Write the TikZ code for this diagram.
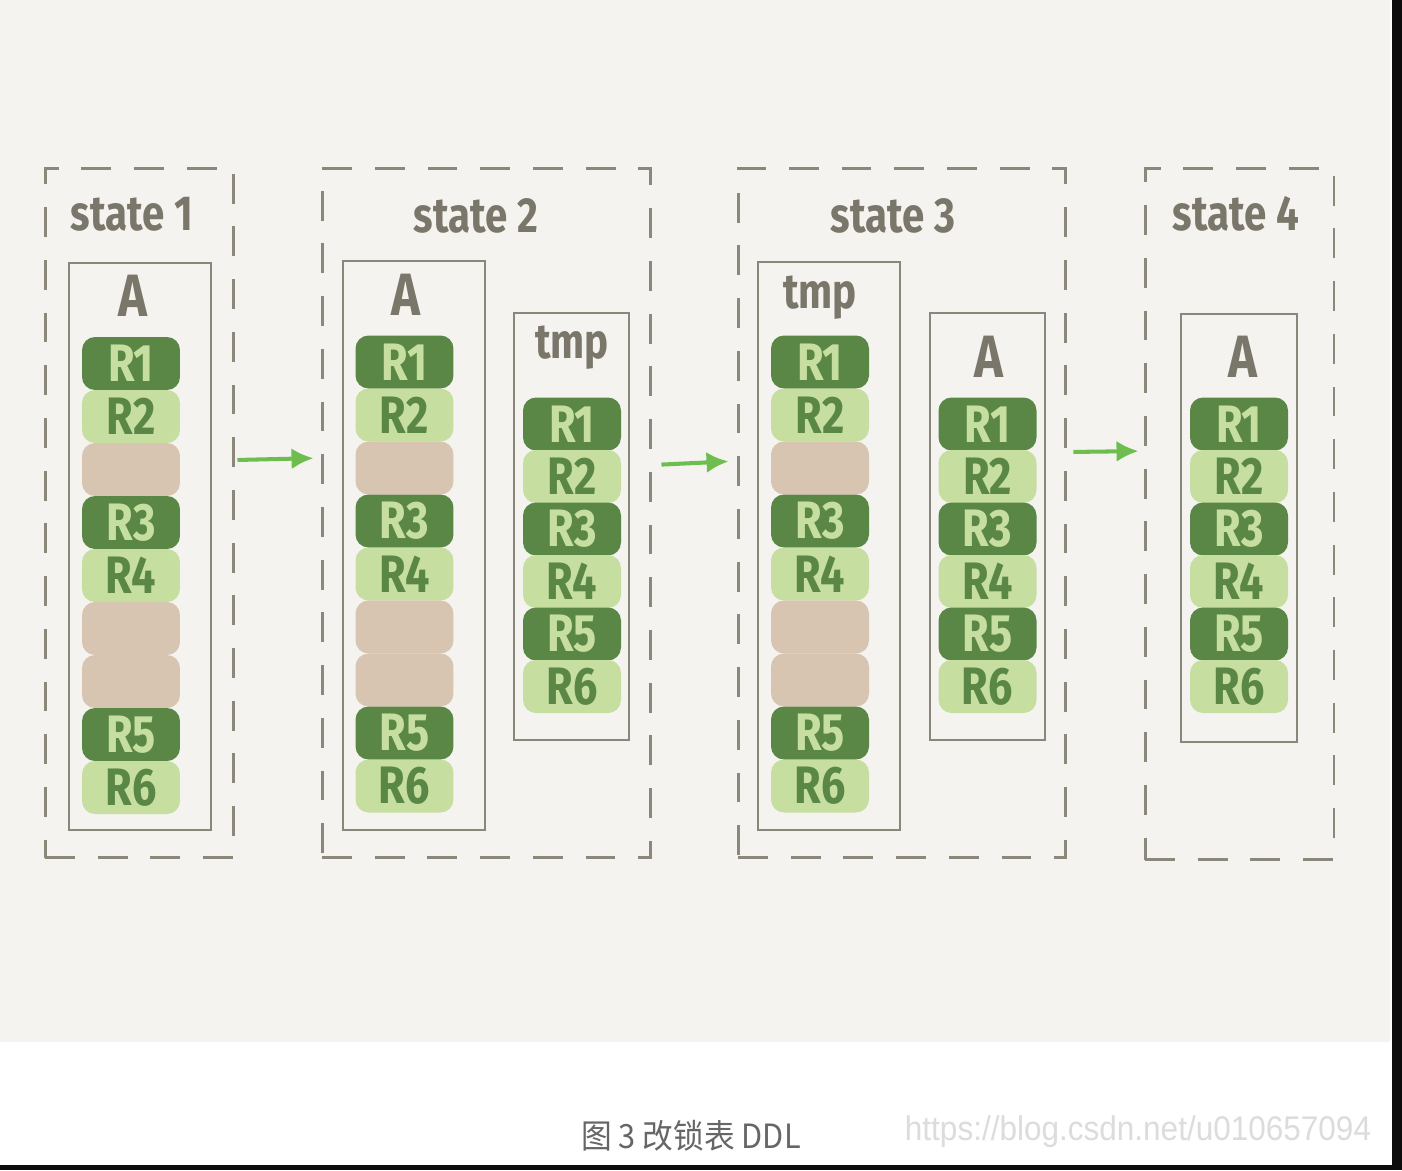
\documentclass[tikz,border=0pt]{standalone}
\usepackage{fontspec}
\usetikzlibrary{arrows.meta}
\newfontfamily\handfont{Fira Sans}[FakeStretch=0.82]
\newfontfamily\cjkfont{Noto Sans CJK SC}[FakeStretch=0.92]
\newfontfamily\urlfont{Liberation Sans}[FakeStretch=0.92]

\definecolor{paper}{HTML}{F4F3EF}
\definecolor{boxgray}{HTML}{8B877B}
\definecolor{framegray}{HTML}{8A8679}
\definecolor{inkgray}{HTML}{7A766A}
\definecolor{rowdark}{HTML}{5A8745}
\definecolor{rowlight}{HTML}{C6DFA0}
\definecolor{rowempty}{HTML}{D7C5B2}
\definecolor{arrowgreen}{HTML}{6DBE4F}
\definecolor{capgray}{HTML}{666666}
\definecolor{markgray}{HTML}{DCDCDC}

\tikzset{
  statebox/.style={draw=boxgray, line width=1.7pt, dash pattern=on 17pt off 13pt, inner sep=0pt},
  tablebox/.style={draw=framegray, line width=1.6pt, inner sep=0pt},
  rowbase/.style={rounded corners=0.26cm, minimum width=1.96cm, minimum height=1.06cm, inner sep=0pt,
    font=\handfont\bfseries\fontsize{30}{31}\selectfont},
  darkrow/.style={rowbase, fill=rowdark, text=rowlight},
  lightrow/.style={rowbase, fill=rowlight, text=rowdark},
  blankrow/.style={rowbase, fill=rowempty},
  title/.style={text=inkgray, font=\handfont\bfseries\fontsize{28}{30}\selectfont},
  tname/.style={text=inkgray, font=\handfont\bfseries\fontsize{34}{36}\selectfont},
  flow/.style={draw=arrowgreen, line width=2.3pt, -{Latex[length=0.44cm,width=0.42cm]}},
}

\begin{document}
\begin{tikzpicture}[x=0.02cm, y=-0.02cm]
	\useasboundingbox (0,0) rectangle (1402,1170);
	% Background
	\fill[paper] (0,0) rectangle (1390,1042);
	\fill[white] (0,1042) rectangle (1392,1165);
	\fill[black!95] (1392,0) rectangle (1402,1170);
	\fill[black!95] (0,1165) rectangle (1402,1170);
	
	% States
	\node[statebox, minimum width=3.78cm, minimum height=13.8cm] (s1) at (139.5,513) {};
	\node[statebox, minimum width=6.58cm, minimum height=13.8cm] (s2) at (486.5,513) {};
	\node[statebox, minimum width=6.56cm, minimum height=13.8cm] (s3) at (902,513) {};
	\node[statebox, minimum width=3.78cm, minimum height=13.84cm] (s4) at (1239.5,514) {};
	
	\node[title] (s1title) at (132,214) {state 1};
	\node[title] (s2title) at (476,216) {state 2};
	\node[title] (s3title) at (893,216) {state 3};
	\node[title] (s4title) at (1236,214) {state 4};
	
	% Tables
	\node[tablebox, minimum width=2.84cm, minimum height=11.34cm] (t1a) at (140,546.5) {};
	\node[tablebox, minimum width=2.84cm, minimum height=11.38cm] (t2a) at (414,545.5) {};
	\node[tablebox, minimum width=2.3cm, minimum height=8.54cm] (t2tmp) at (571.5,526.5) {};
	\node[tablebox, minimum width=2.84cm, minimum height=11.36cm] (t3tmp) at (829,546) {};
	\node[tablebox, minimum width=2.3cm, minimum height=8.54cm] (t3a) at (987.5,526.5) {};
	\node[tablebox, minimum width=2.32cm, minimum height=8.56cm] (t4a) at (1239,528) {};
	
	\node[tname] (t1aname) at (133,296) {A};
	\node[tname] (t2aname) at (406,295) {A};
	\node[title] (t2tmpname) at (572,348) {tmp};
	\node[title] (t3tmpname) at (820,298) {tmp};
	\node[tname] (t3aname) at (989,357) {A};
	\node[tname] (t4aname) at (1243,357) {A};
	
	% Rows
	\foreach \st/\lbl [count=\k from 0] in {darkrow/R1,lightrow/R2,blankrow/,darkrow/R3,lightrow/R4,blankrow/,blankrow/,darkrow/R5,lightrow/R6}
		\node[\st] (t1a-\k) at (131,363.5+53*\k) {\lbl};
	\foreach \st/\lbl [count=\k from 0] in {darkrow/R1,lightrow/R2,blankrow/,darkrow/R3,lightrow/R4,blankrow/,blankrow/,darkrow/R5,lightrow/R6}
		\node[\st] (t2a-\k) at (404.5,362+53*\k) {\lbl};
	\foreach \st/\lbl [count=\k from 0] in {darkrow/R1,lightrow/R2,blankrow/,darkrow/R3,lightrow/R4,blankrow/,blankrow/,darkrow/R5,lightrow/R6}
		\node[\st] (t3tmp-\k) at (820,362+53*\k) {\lbl};
	\foreach \st/\lbl [count=\k from 0] in {darkrow/R1,lightrow/R2,darkrow/R3,lightrow/R4,darkrow/R5,lightrow/R6}
		\node[\st] (t2tmp-\k) at (572,424+52.5*\k) {\lbl};
	\foreach \st/\lbl [count=\k from 0] in {darkrow/R1,lightrow/R2,darkrow/R3,lightrow/R4,darkrow/R5,lightrow/R6}
		\node[\st] (t3a-\k) at (987.5,424+52.5*\k) {\lbl};
	\foreach \st/\lbl [count=\k from 0] in {darkrow/R1,lightrow/R2,darkrow/R3,lightrow/R4,darkrow/R5,lightrow/R6}
		\node[\st] (t4a-\k) at (1239,424+52.5*\k) {\lbl};
	
	% Arrows
	\draw[flow, shorten <=0.04cm, shorten >=0.14cm] ([yshift=1.06cm]s1.east) -- ([yshift=1.10cm]s2.west);
	\draw[flow, shorten <=0.18cm, shorten >=0.16cm] ([yshift=0.96cm]s2.east) -- ([yshift=1.04cm]s3.west);
	\draw[flow, shorten <=0.12cm, shorten >=0.10cm] ([yshift=1.22cm]s3.east) -- ([yshift=1.26cm]s4.west);
	
	% Caption
	\node[text=capgray, font=\cjkfont\fontsize{19}{21}\selectfont] (cap) at (691,1136) {图 3 改锁表 DDL};
	\node[text=markgray, font=\urlfont\fontsize{19.5}{21}\selectfont] (mark) at (1138,1132) {https://blog.csdn.net/u010657094};
\end{tikzpicture}
\end{document}
